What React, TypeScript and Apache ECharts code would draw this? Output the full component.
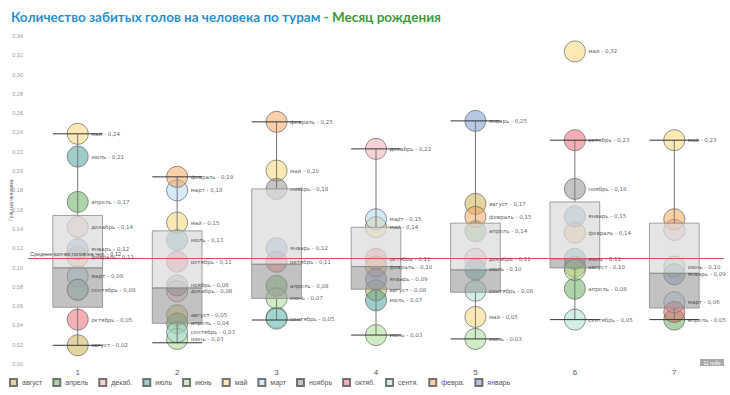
import React, { useEffect, useRef } from "react";
import * as echarts from "echarts";

const tours = ["1", "2", "3", "4", "5", "6", "7"];
const months = ["август", "апрель", "декабрь", "июль", "июнь", "май", "март", "ноябрь", "октябрь", "сентябрь", "февраль", "январь"];
const legendNames = ["август", "апрель", "декаб.", "июль", "июнь", "май", "март", "ноябрь", "октяб.", "сентя.", "февра.", "январь"];
const monthColors = ["#c9a93f", "#5aa64f", "#f2a3a6", "#3d9a98", "#9fd88a", "#f9d36a", "#a9d4ef", "#8a8a8a", "#e8606a", "#a3dcd4", "#f4a050", "#6b8fc7"];

// values per tour 1..7 (null = no data)
const augustValues = [0.0194, 0.0505, null, 0.0764, 0.166, 0.101, null];
const aprilValues = [0.168, 0.042, 0.081, null, 0.1376, 0.078, 0.046];
const decemberValues = [0.142, 0.0755, null, 0.223, 0.109, null, 0.139];
const julyValues = [0.215, 0.1286, 0.048, 0.066, 0.098, 0.109, null];
const juneValues = [null, 0.026, 0.068, 0.03, 0.026, 0.0975, 0.101];
const mayValues = [0.2386, 0.1466, 0.2005, 0.1418, 0.0488, 0.324, 0.232];
const marchValues = [0.091, 0.18, null, 0.15, null, null, 0.064];
const novemberValues = [0.077, 0.0815, 0.1815, null, null, 0.1815, null];
const octoberValues = [0.046, 0.106, 0.106, 0.109, null, 0.232, 0.054];
const septemberValues = [0.077, 0.033, 0.047, null, 0.076, 0.046, null];
const februaryValues = [0.111, 0.194, 0.251, 0.101, 0.1525, 0.136, 0.15];
const januaryValues = [0.119, null, 0.12, 0.088, 0.252, 0.153, 0.093];

const monthValues = [augustValues, aprilValues, decemberValues, julyValues, juneValues, mayValues, marchValues, novemberValues, octoberValues, septemberValues, februaryValues, januaryValues];

// points whose label is hidden behind others in the reference: [month, tour]
const hiddenLabels = [["ноябрь", "1"], ["июль", "3"], ["июнь", "6"], ["февраль", "7"], ["декабрь", "7"], ["октябрь", "7"]];

// box plot summary per tour
const boxMin = [0.0194, 0.022, 0.0456, 0.03, 0.026, 0.046, 0.046];
const boxQ1 = [0.0588, 0.0422, 0.068, 0.0775, 0.0744, 0.0996, 0.058];
const boxMedian = [0.0996, 0.0788, 0.1034, 0.101, 0.0975, 0.109, 0.094];
const boxQ3 = [0.154, 0.138, 0.1815, 0.1418, 0.146, 0.168, 0.146];
const boxMax = [0.2386, 0.194, 0.251, 0.223, 0.252, 0.232, 0.232];

const averageValue = 0.113;
const averageLabel = "Среднее кол-во голов на чел. - 0,12";
const yAxisName = "Голы на человека";
const titleMain = "Количество забитых голов на человека по турам";
const titleSub = " - Месяц рождения";

const fmt = (v: number) => v.toFixed(2).replace(".", ",");

function hexToRgba(hex: string, a: number) {
  const n = parseInt(hex.slice(1), 16);
  return `rgba(${(n >> 16) & 255},${(n >> 8) & 255},${n & 255},${a})`;
}

const isHidden = (m: string, t: string) => hiddenLabels.some((h) => h[0] === m && h[1] === t);

export default function App() {
  const ref = useRef<HTMLDivElement>(null);
  useEffect(() => {
    if (!ref.current) return;
    const chart = echarts.init(ref.current, undefined, { renderer: "svg" });

    const pointsOf = (mi: number) =>
      monthValues[mi]
        .map((v, i) => (v == null ? null : [tours[i], v]))
        .filter((d) => d != null) as any[];

    const circleSeries: any[] = months.map((m, mi) => ({
      type: "scatter",
      name: m,
      z: 2,
      symbol: "circle",
      symbolSize: 21,
      itemStyle: {
        color: hexToRgba(monthColors[mi], 0.62),
        borderColor: "#555",
        borderWidth: 0.8,
      },
      label: { show: false },
      data: pointsOf(mi),
    }));

    const labelSeries: any[] = months.map((m, mi) => ({
      type: "scatter",
      name: m + " ",
      z: 7,
      silent: true,
      symbol: "circle",
      symbolSize: 21,
      itemStyle: { color: "rgba(0,0,0,0)", borderWidth: 0 },
      label: {
        show: true,
        position: "right",
        distance: 3,
        fontSize: 5.5,
        color: "#333",
        fontFamily: "DejaVu Sans",
        formatter: (p: any) => `${m} - ${fmt(p.value[1])}`,
      },
      data: pointsOf(mi).map((d) => (isHidden(m, d[0]) ? { value: d, label: { show: false } } : d)),
    }));

    const boxData = tours.map((_, i) => [i, boxMin[i], boxQ1[i], boxMedian[i], boxQ3[i], boxMax[i]]);

    const boxSeries = {
      type: "custom",
      name: "box",
      z: 5,
      silent: true,
      encode: { x: 0, y: [1, 2, 3, 4, 5] },
      data: boxData,
      renderItem: (params: any, api: any) => {
        const x = api.value(0);
        const pMin = api.coord([x, api.value(1)]);
        const pQ1 = api.coord([x, api.value(2)]);
        const pMed = api.coord([x, api.value(3)]);
        const pQ3 = api.coord([x, api.value(4)]);
        const pMax = api.coord([x, api.value(5)]);
        const bw = api.size([1, 0])[0];
        const half = bw * 0.25;
        const cx = pMed[0];
        return {
          type: "group",
          children: [
            { type: "line", shape: { x1: cx, y1: pMax[1], x2: cx, y2: pQ3[1] }, style: { stroke: "#777", lineWidth: 1 } },
            { type: "line", shape: { x1: cx, y1: pQ1[1], x2: cx, y2: pMin[1] }, style: { stroke: "#777", lineWidth: 1 } },
            { type: "rect", shape: { x: cx - half, y: pQ3[1], width: half * 2, height: pMed[1] - pQ3[1] }, style: { fill: "rgba(218,218,218,0.7)", stroke: "#8a8a8a", lineWidth: 0.8 } },
            { type: "rect", shape: { x: cx - half, y: pMed[1], width: half * 2, height: pQ1[1] - pMed[1] }, style: { fill: "rgba(150,150,150,0.58)", stroke: "#8a8a8a", lineWidth: 0.8 } },
            { type: "line", shape: { x1: cx - half, y1: pMax[1], x2: cx + half, y2: pMax[1] }, style: { stroke: "#333", lineWidth: 1 } },
            { type: "line", shape: { x1: cx - half, y1: pMin[1], x2: cx + half, y2: pMin[1] }, style: { stroke: "#333", lineWidth: 1 } },
          ],
        };
      },
      markLine: {
        silent: true,
        symbol: "none",
        z: 6,
        lineStyle: { color: "#d9534f", type: "solid", width: 1.2 },
        label: {
          show: true,
          position: "insideStartTop",
          formatter: averageLabel,
          fontSize: 5.5,
          color: "#444",
          distance: [2, 1],
        },
        data: [{ yAxis: averageValue }],
      },
    };

    chart.setOption({
      animation: false,
      backgroundColor: "#fff",
      title: {
        text: `{a|${titleMain}}{b|${titleSub}}`,
        left: 6,
        top: 5,
        textStyle: {
          rich: {
            a: { fontSize: 13.5, fontWeight: "bold", color: "#2a8fd0", fontFamily: "Lato" },
            b: { fontSize: 13.5, fontWeight: "bold", color: "#3d9a3d", fontFamily: "Lato" },
          },
        },
      },
      legend: {
        bottom: 3,
        left: 4,
        icon: "rect",
        itemWidth: 7,
        itemHeight: 7,
        itemGap: 10,
        data: months,
        formatter: (name: string) => legendNames[months.indexOf(name)],
        textStyle: { color: "#555", fontSize: 7 },
      },
      grid: { left: 28, right: 6, top: 36, bottom: 31, outerBoundsMode: "none" },
      xAxis: {
        type: "category",
        data: tours,
        axisLine: { show: false },
        axisTick: { show: false },
        axisLabel: { fontSize: 8, color: "#555", margin: 4 },
        splitLine: { show: false },
      },
      yAxis: {
        type: "value",
        min: 0,
        max: 0.34,
        interval: 0.02,
        name: yAxisName,
        nameLocation: "middle",
        nameGap: 15,
        nameMoveOverlap: false,
        nameRotate: 90,
        nameTextStyle: { fontSize: 5, color: "#555" },
        axisLine: { show: false },
        axisTick: { show: false },
        splitLine: { show: false },
        axisLabel: { fontSize: 5.5, color: "#999", margin: 5, formatter: (v: number) => fmt(v) },
      },
      graphic: [
        {
          type: "group",
          right: 6,
          bottom: 29,
          children: [
            { type: "rect", shape: { x: 0, y: 0, width: 24, height: 7 }, style: { fill: "#a8a8a8" } },
            { type: "text", x: 12, y: 3.5, style: { text: "11 nulls", fill: "#fff", fontSize: 5, align: "center", verticalAlign: "middle" } },
          ],
        },
      ],
      series: [...circleSeries, boxSeries, ...labelSeries],
    });
    return () => chart.dispose();
  }, []);
  return <div ref={ref} style={{ position: "fixed", left: 0, top: 0, width: 730, height: 395 }} />;
}
